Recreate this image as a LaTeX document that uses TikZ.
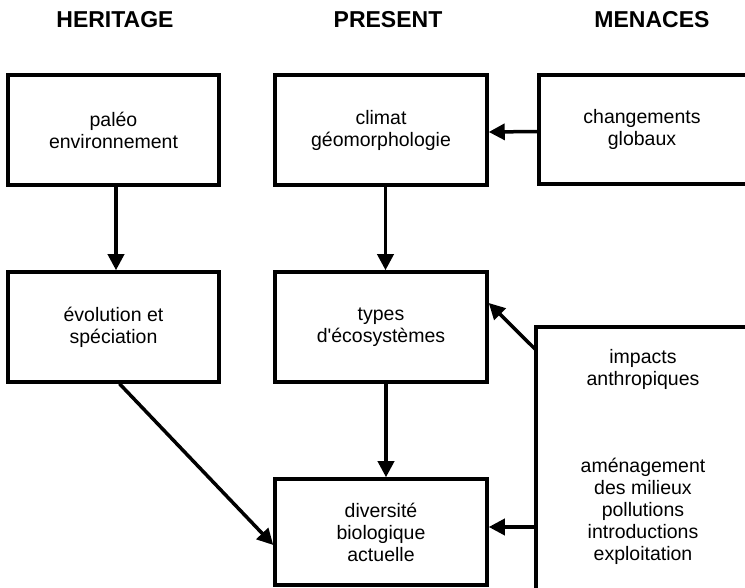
\documentclass[tikz,border=0pt]{standalone}
\usepackage{fontspec}
\setmainfont{Liberation Sans}[Ligatures=TeXOff]
\usetikzlibrary{arrows.meta,calc}
\begin{document}
\begin{tikzpicture}[x=1pt,y=1pt,
  box/.style={draw=black,line width=3.5pt,rectangle,inner sep=0pt,align=center,
    font=\fontsize{19.5}{22}\selectfont},
  txt/.style={inner sep=0pt,align=center,font=\fontsize{19.5}{22}\selectfont},
  head/.style={inner sep=0pt,anchor=base,font=\fontsize{23}{25}\selectfont\bfseries},
  arr/.style={line width=3.5pt,-{Triangle[length=16pt,width=16pt]}},
  edge/.style={line width=3.5pt}]
\useasboundingbox (0,0) rectangle (745,587);
% headings
\node[head] (h1) at (115,559) {HERITAGE};
\node[head] (h2) at (388,559) {PRESENT};
\node[head] (h3) at (652,559) {MENACES};
% boxes
\node[box,minimum width=211pt,minimum height=110pt] (paleo) at (113.5,457) {paléo\\environnement};
\node[box,minimum width=212pt,minimum height=110pt] (climat) at (381,457) {climat\\géomorphologie};
\node[txt,minimum width=206pt,minimum height=109pt] (chg) at (642,457.5) {changements\\globaux};
\draw[edge] ($(chg.north east)+(3,0)$) -- (chg.north west) -- (chg.south west) -- ($(chg.south east)+(3,0)$);
\node[box,minimum width=211pt,minimum height=110pt] (evol) at (113.5,260) {évolution et\\spéciation};
\node[box,minimum width=212pt,minimum height=110pt] (types) at (381,260) {types\\d'écosystèmes};
\node[box,minimum width=212pt,minimum height=106pt] (div) at (381,55) {diversité\\biologique\\actuelle};
\node[inner sep=0pt,minimum width=211pt,minimum height=262pt] (imp) at (641.5,129) {};
\draw[edge] ($(imp.south west)+(0,-3)$) -- (imp.north west) -- ($(imp.north east)+(3,0)$);
\node[txt] (imp1) at (643,218) {impacts\\anthropiques};
\node[txt] (imp2) at (643,76) {aménagement\\des milieux\\pollutions\\introductions\\exploitation};
% arrows
\draw[arr] ([xshift=2.5pt]paleo.south) -- ([xshift=2.5pt]evol.north);
\draw[arr] ([xshift=4.5pt]climat.south) -- ([xshift=4.5pt]types.north);
\draw[arr] ([xshift=5pt]types.south) -- ([xshift=5pt]div.north);
\draw[arr] ([yshift=-2pt]chg.west) -- ([yshift=-2pt]climat.east);
\draw[arr] ([yshift=-23pt]imp.north west) -- ([yshift=24pt]types.east);
\coordinate (dtarget) at ([yshift=5pt]div.east);
\draw[arr] (imp.west |- dtarget) -- (dtarget);
\draw[arr] ([xshift=6pt]evol.south) -- ([yshift=-13pt]div.west);
\end{tikzpicture}
\end{document}
